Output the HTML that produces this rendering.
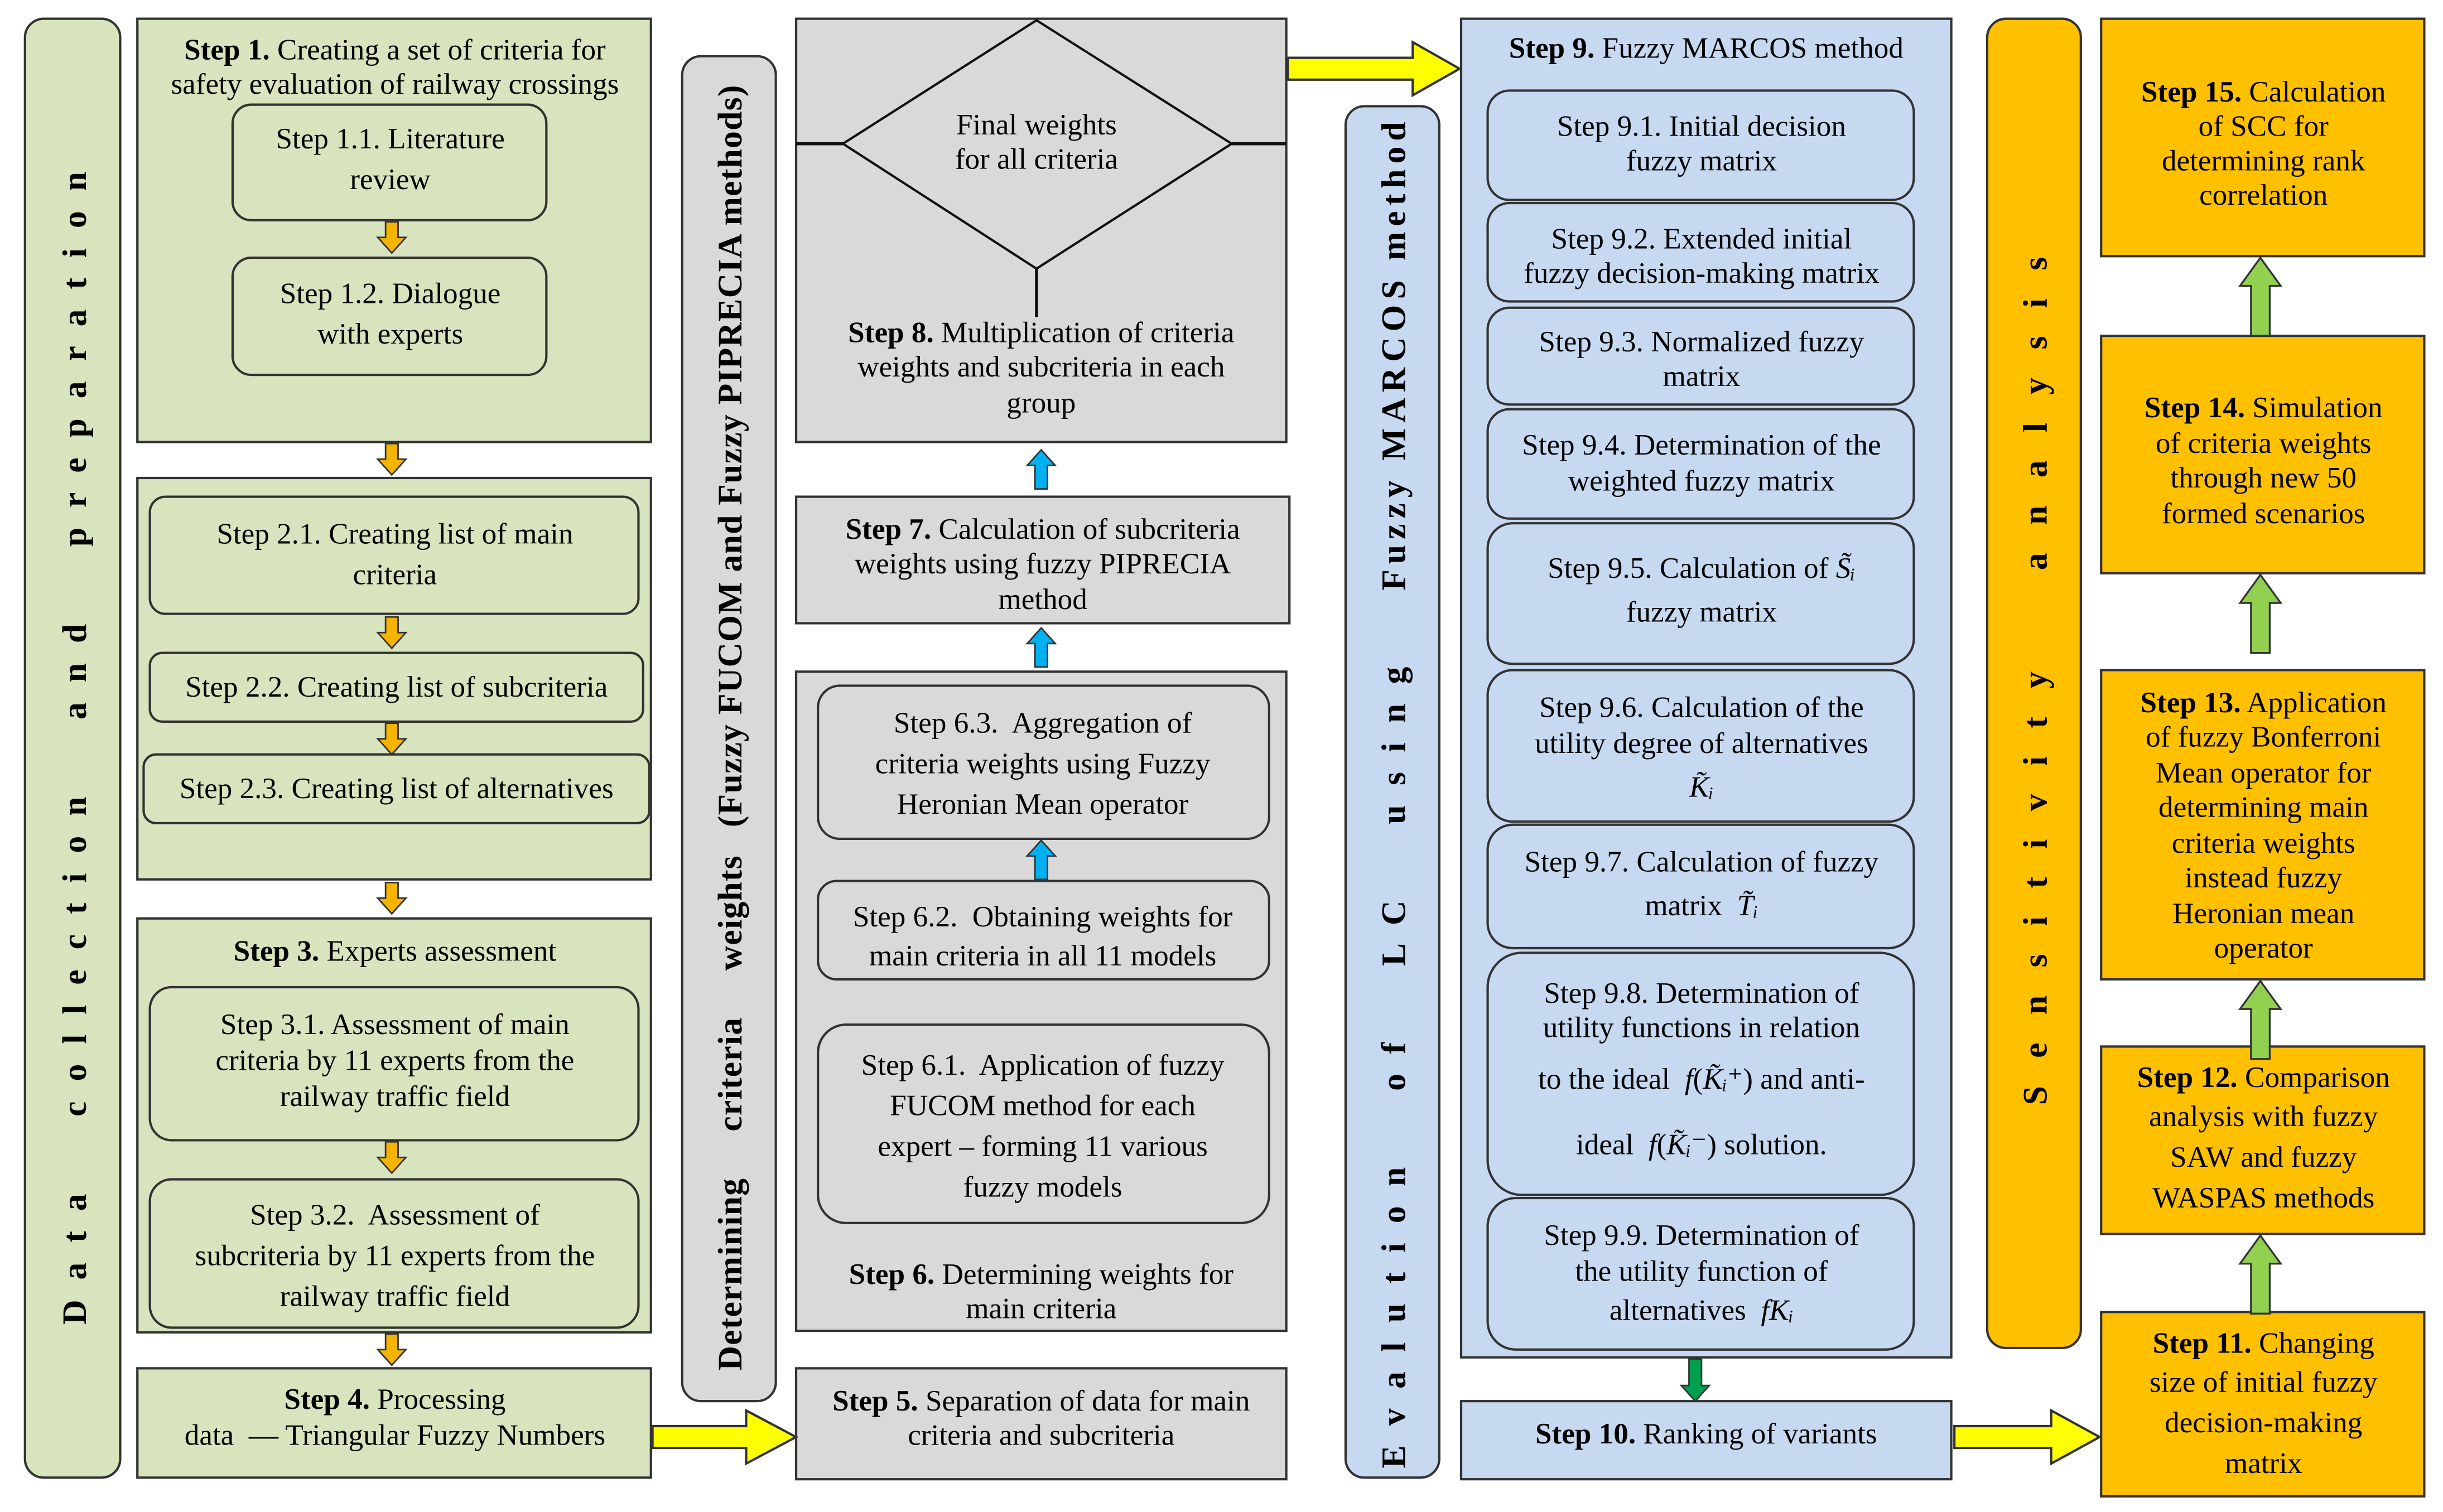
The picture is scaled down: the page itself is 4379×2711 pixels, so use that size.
<!DOCTYPE html>
<html><head><meta charset="utf-8">
<style>
html,body{margin:0;padding:0;background:#fff;}
svg{display:block;}
text{font-family:"Liberation Serif","DejaVu Serif",serif;font-size:19px;fill:#000;white-space:pre;}
.b{font-weight:bold;}
.v{font-weight:bold;font-size:22px;}
</style></head>
<body>
<svg width="4379" height="2711" viewBox="0 0 1565 968" preserveAspectRatio="none" xmlns="http://www.w3.org/2000/svg" xml:space="preserve">
<defs>
<g id="oa"><path d="M-4,0 h8 v10 h5 l-9,10 l-9,-10 h5 z" fill="#f5b400" stroke="#333" stroke-width="1"/></g>
<g id="ba"><path d="M-4,25 h8 v-15 h5 l-9,-10 l-9,10 h5 z" fill="#00b0f0" stroke="#333" stroke-width="1"/></g>
<g id="ga"><path d="M-6,50 h12 v-32 h7 l-13,-18 l-13,18 h7 z" fill="#92d050" stroke="#333" stroke-width="1.2"/></g>
</defs>
<g stroke="#333" stroke-width="1.5">
<rect x="16" y="12" width="61" height="934" rx="12" fill="#d7e4bd"/>
<rect x="88" y="12" width="329" height="271" fill="#d7e4bd"/>
<rect x="149" y="67" width="201" height="74" rx="12" fill="#d7e4bd"/>
<rect x="149" y="165" width="201" height="75" rx="12" fill="#d7e4bd"/>
<rect x="88" y="306" width="329" height="257" fill="#d7e4bd"/>
<rect x="96" y="318" width="313" height="75" rx="10" fill="#d7e4bd"/>
<rect x="96" y="418" width="316" height="44" rx="8" fill="#d7e4bd"/>
<rect x="92" y="483" width="324" height="44" rx="8" fill="#d7e4bd"/>
<rect x="88" y="588" width="329" height="265" fill="#d7e4bd"/>
<rect x="96" y="632" width="313" height="98" rx="14" fill="#d7e4bd"/>
<rect x="96" y="755" width="313" height="95" rx="14" fill="#d7e4bd"/>
<rect x="88" y="876" width="329" height="70" fill="#d7e4bd"/>
<rect x="437" y="36" width="60" height="861" rx="12" fill="#d9d9d9"/>
<rect x="510" y="12" width="314" height="271" fill="#d9d9d9"/>
<rect x="510" y="318" width="316" height="81" fill="#d9d9d9"/>
<rect x="510" y="430" width="314" height="422" fill="#d9d9d9"/>
<rect x="524" y="439" width="289" height="98" rx="14" fill="#d9d9d9"/>
<rect x="524" y="564" width="289" height="63" rx="12" fill="#d9d9d9"/>
<rect x="524" y="656" width="289" height="127" rx="18" fill="#d9d9d9"/>
<rect x="510" y="876" width="314" height="71" fill="#d9d9d9"/>
<rect x="862" y="68" width="60" height="878" rx="12" fill="#c6d9f1"/>
<rect x="936" y="12" width="314" height="857" fill="#c6d9f1"/>
<rect x="953" y="58" width="273" height="70" rx="14" fill="#c6d9f1"/>
<rect x="953" y="130" width="273" height="63" rx="14" fill="#c6d9f1"/>
<rect x="953" y="197" width="273" height="62" rx="14" fill="#c6d9f1"/>
<rect x="953" y="262" width="273" height="70" rx="14" fill="#c6d9f1"/>
<rect x="953" y="335" width="273" height="90" rx="16" fill="#c6d9f1"/>
<rect x="953" y="429" width="273" height="97" rx="16" fill="#c6d9f1"/>
<rect x="953" y="528" width="273" height="79" rx="16" fill="#c6d9f1"/>
<rect x="953" y="610" width="273" height="155" rx="22" fill="#c6d9f1"/>
<rect x="953" y="767" width="273" height="97" rx="18" fill="#c6d9f1"/>
<rect x="936" y="897" width="314" height="50" fill="#c6d9f1"/>
<rect x="1273" y="12" width="60" height="851" rx="12" fill="#ffc000"/>
<rect x="1346" y="12" width="207" height="152" fill="#ffc000"/>
<rect x="1346" y="215" width="207" height="152" fill="#ffc000"/>
<rect x="1346" y="429" width="207" height="198" fill="#ffc000"/>
<rect x="1346" y="670" width="207" height="120" fill="#ffc000"/>
<rect x="1346" y="840" width="207" height="118" fill="#ffc000"/>
</g>
<g stroke="#111" stroke-width="2" fill="none">
<polygon points="664,13 789,92 664,172 540,92" fill="#d9d9d9" stroke-width="1.5"/>
<line x1="510" y1="92" x2="540" y2="92"/><line x1="789" y1="92" x2="824" y2="92"/>
<line x1="664" y1="172" x2="664" y2="203"/>
</g>
<use href="#oa" x="251" y="142"/>
<use href="#oa" x="251" y="284"/>
<use href="#oa" x="251" y="395"/>
<use href="#oa" x="251" y="463"/>
<use href="#oa" x="251" y="565"/>
<use href="#oa" x="251" y="731"/>
<use href="#oa" x="251" y="854"/>
<use href="#ba" x="667" y="288"/>
<use href="#ba" x="667" y="402"/>
<use href="#ba" x="667" y="538"/>
<path d="M1082,870 h8 v17 h5 l-9,10 l-9,-10 h5 z" fill="#00a050" stroke="#333"/>
<use href="#ga" x="1448" y="165"/>
<use href="#ga" x="1448" y="368"/>
<use href="#ga" x="1448" y="628"/>
<use href="#ga" x="1448" y="791"/>
<g fill="#ffff00" stroke="#333" stroke-width="1.5">
<path d="M418,913 h60 v-10 l32,17 l-32,17 v-10 h-60 z"/>
<path d="M825,37 h80 v-10 l30,17 l-30,17 v-10 h-80 z"/>
<path d="M1252,913 h62 v-10 l31,17 l-31,17 v-10 h-62 z"/>
</g>
<text class="v" transform="translate(55,479) rotate(-90)" text-anchor="middle" textLength="738" lengthAdjust="spacing">D a t a     c o l l e c t i o n     a n d     p r e p a r a t i o n</text>
<text class="v" transform="translate(475,466) rotate(-90)" text-anchor="middle" textLength="823" lengthAdjust="spacing">Determining     criteria     weights   (Fuzzy FUCOM and Fuzzy PIPRECIA methods)</text>
<text class="v" transform="translate(900,509) rotate(-90)" text-anchor="middle" textLength="862" lengthAdjust="spacing">E v a l u t i o n     o f     L C     u s i n g     Fuzzy MARCOS method</text>
<text class="v" transform="translate(1311,436) rotate(-90)" text-anchor="middle" textLength="543" lengthAdjust="spacing">S e n s i t i v i t y     a n a l y s i s</text>
<g text-anchor="middle">
<text x="253" y="38"><tspan class="b">Step 1.</tspan> Creating a set of criteria for</text>
<text x="253" y="60">safety evaluation of railway crossings</text>
<text x="250" y="95">Step 1.1. Literature</text><text x="250" y="121">review</text>
<text x="250" y="194">Step 1.2. Dialogue</text><text x="250" y="220">with experts</text>
<text x="253" y="348">Step 2.1. Creating list of main</text><text x="253" y="374">criteria</text>
<text x="254" y="446">Step 2.2. Creating list of subcriteria</text>
<text x="254" y="511">Step 2.3. Creating list of alternatives</text>
<text x="253" y="615"><tspan class="b">Step 3.</tspan> Experts assessment</text>
<text x="253" y="662">Step 3.1. Assessment of main</text>
<text x="253" y="685">criteria by 11 experts from the</text>
<text x="253" y="708">railway traffic field</text>
<text x="253" y="784">Step 3.2.  Assessment of</text>
<text x="253" y="810">subcriteria by 11 experts from the</text>
<text x="253" y="836">railway traffic field</text>
<text x="253" y="902"><tspan class="b">Step 4.</tspan> Processing</text>
<text x="253" y="925">data  — Triangular Fuzzy Numbers</text>
<text x="664" y="86">Final weights</text><text x="664" y="108">for all criteria</text>
<text x="667" y="219"><tspan class="b">Step 8.</tspan> Multiplication of criteria</text>
<text x="667" y="241">weights and subcriteria in each</text>
<text x="667" y="264">group</text>
<text x="668" y="345"><tspan class="b">Step 7.</tspan> Calculation of subcriteria</text>
<text x="668" y="367">weights using fuzzy PIPRECIA</text>
<text x="668" y="390">method</text>
<text x="668" y="469">Step 6.3.  Aggregation of</text>
<text x="668" y="495">criteria weights using Fuzzy</text>
<text x="668" y="521">Heronian Mean operator</text>
<text x="668" y="593">Step 6.2.  Obtaining weights for</text>
<text x="668" y="618">main criteria in all 11 models</text>
<text x="668" y="688">Step 6.1.  Application of fuzzy</text>
<text x="668" y="714">FUCOM method for each</text>
<text x="668" y="740">expert – forming 11 various</text>
<text x="668" y="766">fuzzy models</text>
<text x="667" y="822"><tspan class="b">Step 6.</tspan> Determining weights for</text>
<text x="667" y="844">main criteria</text>
<text x="667" y="903"><tspan class="b">Step 5.</tspan> Separation of data for main</text>
<text x="667" y="925">criteria and subcriteria</text>
<text x="1093" y="37"><tspan class="b">Step 9.</tspan> Fuzzy MARCOS method</text>
<text x="1090" y="87">Step 9.1. Initial decision</text><text x="1090" y="109">fuzzy matrix</text>
<text x="1090" y="159">Step 9.2. Extended initial</text><text x="1090" y="181">fuzzy decision-making matrix</text>
<text x="1090" y="225">Step 9.3. Normalized fuzzy</text><text x="1090" y="247">matrix</text>
<text x="1090" y="291">Step 9.4. Determination of the</text><text x="1090" y="314">weighted fuzzy matrix</text>
<text x="1090" y="370">Step 9.5. Calculation of <tspan font-style="italic">S̃ᵢ</tspan></text><text x="1090" y="398">fuzzy matrix</text>
<text x="1090" y="459">Step 9.6. Calculation of the</text><text x="1090" y="482">utility degree of alternatives</text><text x="1090" y="510" font-style="italic">K̃ᵢ</text>
<text x="1090" y="558">Step 9.7. Calculation of fuzzy</text><text x="1090" y="586">matrix  <tspan font-style="italic">T̃ᵢ</tspan></text>
<text x="1090" y="642">Step 9.8. Determination of</text><text x="1090" y="664">utility functions in relation</text>
<text x="1090" y="697">to the ideal  <tspan font-style="italic">f</tspan>(<tspan font-style="italic">K̃ᵢ⁺</tspan>) and anti-</text>
<text x="1090" y="739">ideal  <tspan font-style="italic">f</tspan>(<tspan font-style="italic">K̃ᵢ⁻</tspan>) solution.</text>
<text x="1090" y="797">Step 9.9. Determination of</text><text x="1090" y="820">the utility function of</text><text x="1090" y="845">alternatives  <tspan font-style="italic">fKᵢ</tspan></text>
<text x="1093" y="924"><tspan class="b">Step 10.</tspan> Ranking of variants</text>
<text x="1450" y="65"><tspan class="b">Step 15.</tspan> Calculation</text>
<text x="1450" y="87">of SCC for</text>
<text x="1450" y="109">determining rank</text>
<text x="1450" y="131">correlation</text>
<text x="1450" y="267"><tspan class="b">Step 14.</tspan> Simulation</text>
<text x="1450" y="290">of criteria weights</text>
<text x="1450" y="312">through new 50</text>
<text x="1450" y="335">formed scenarios</text>
<text x="1450" y="456"><tspan class="b">Step 13.</tspan> Application</text>
<text x="1450" y="478">of fuzzy Bonferroni</text>
<text x="1450" y="501">Mean operator for</text>
<text x="1450" y="523">determining main</text>
<text x="1450" y="546">criteria weights</text>
<text x="1450" y="568">instead fuzzy</text>
<text x="1450" y="591">Heronian mean</text>
<text x="1450" y="613">operator</text>
<text x="1450" y="696"><tspan class="b">Step 12.</tspan> Comparison</text>
<text x="1450" y="721">analysis with fuzzy</text>
<text x="1450" y="747">SAW and fuzzy</text>
<text x="1450" y="773">WASPAS methods</text>
<text x="1450" y="866"><tspan class="b">Step 11.</tspan> Changing</text>
<text x="1450" y="891">size of initial fuzzy</text>
<text x="1450" y="917">decision-making</text>
<text x="1450" y="943">matrix</text>
</g>
</svg>
</body></html>
